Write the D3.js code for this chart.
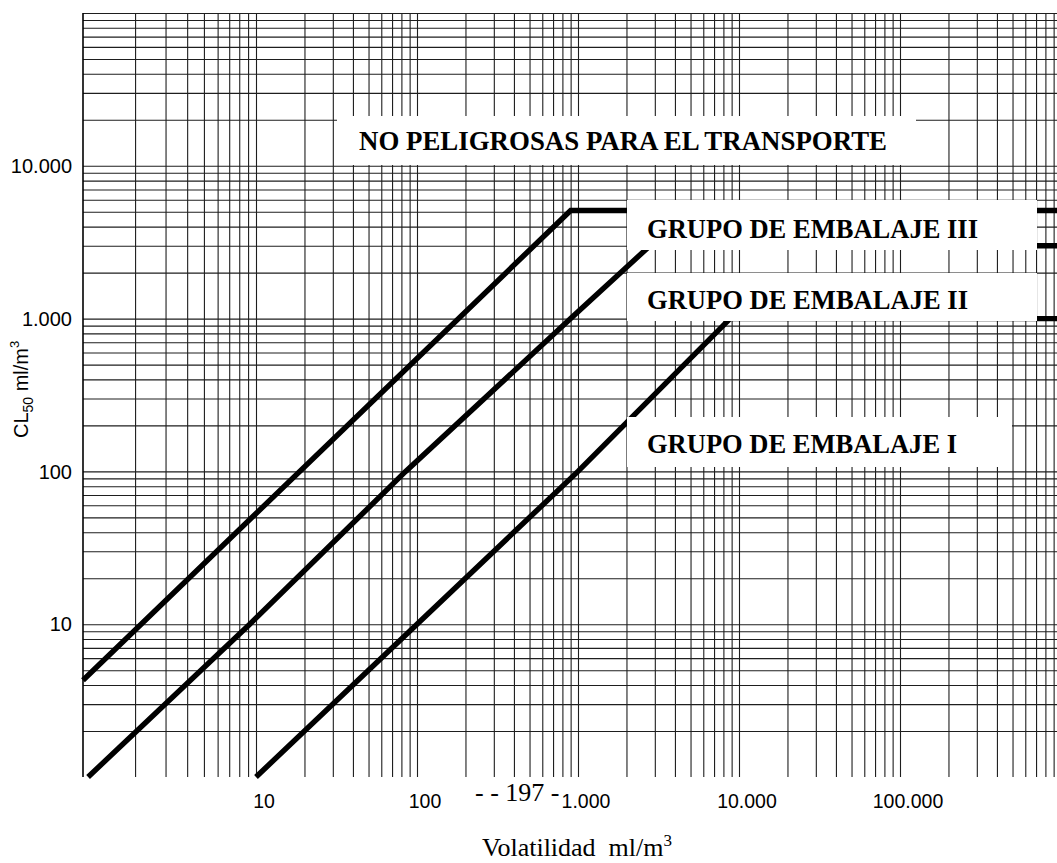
<!DOCTYPE html>
<html>
<head>
<meta charset="utf-8">
<script src="https://cdn.jsdelivr.net/npm/d3@7"></script>
<style>
  html, body { margin: 0; padding: 0; background: #fff; }
  svg { display: block; }
</style>
</head>
<body>
<svg id="chart" width="1057" height="863"></svg>
<script>
// ---------------- DATA ----------------
// x: Volatilidad (ml/m3), y: CL50 (ml/m3)
const xDecades = [1, 10, 100, 1000, 10000, 100000, 1000000];
const yDecades = [1, 100000];
const xTickValues = [10, 100, 1000, 10000, 100000];
const xTickLabels = ["10", "100", "1.000", "10.000", "100.000"];
const yTickValues = [10, 100, 1000, 10000];
const yTickLabels = ["10", "100", "1.000", "10.000"];

// boundary lines [volatility, CL50]
const lineGroupIII = [[1, 4.3], [900, 5100], [1000000, 5100]];
const lineGroupII  = [[1.07, 1], [9.2, 10], [85, 100], [900, 1000], [2800, 3000], [1000000, 3000]];
const lineGroupI   = [[10, 1], [100, 10], [1000, 100], [8800, 1000], [1000000, 1000]];

const regionLabels = ["NO PELIGROSAS PARA EL TRANSPORTE", "GRUPO DE EMBALAJE III", "GRUPO DE EMBALAJE II", "GRUPO DE EMBALAJE I"];
const pageNumber = "- - 197 -";
const xTitle = "Volatilidad  ml/m";
const yTitleMain = "CL";
const yTitleSub = "50";
const yTitleUnit = " ml/m";

// ---------------- LAYOUT ----------------
const svg = d3.select("#chart");
const plot = { left: 83, right: 1057, top: 13, bottom: 777 };
const xRange = [83, 256, 417, 578, 739, 900, 1061];

const x = d3.scaleLog().domain(xDecades).range(xRange);
const y = d3.scaleLog().domain(yDecades).range([plot.bottom, plot.top]);

// grid values (1..9 x 10^k)
const xGrid = [];
for (let k = 0; k < 6; k++) for (let m = 1; m <= 9; m++) xGrid.push(m * Math.pow(10, k));
const yGrid = [];
for (let k = 0; k < 5; k++) for (let m = 1; m <= 9; m++) { const v = m * Math.pow(10, k); if (v > 1) yGrid.push(v); }
yGrid.push(100000);

const gridColor = "#1e1e1e";

// vertical grid via axis
const gx = svg.append("g")
  .attr("transform", `translate(0,${plot.bottom})`)
  .call(d3.axisBottom(x).tickValues(xGrid.filter(v => v > 1)).tickSize(-(plot.bottom - plot.top)).tickFormat(""));
gx.select(".domain").remove();
gx.selectAll(".tick line").attr("stroke", gridColor).attr("stroke-width", 1.1);

// horizontal grid via axis
const gy = svg.append("g")
  .attr("transform", `translate(${plot.left},0)`)
  .call(d3.axisLeft(y).tickValues(yGrid).tickSize(-(plot.right - plot.left)).tickFormat(""));
gy.select(".domain").remove();
gy.selectAll(".tick line").attr("stroke", gridColor).attr("stroke-width", 1.1);

// left axis line
svg.append("line")
  .attr("x1", plot.left).attr("x2", plot.left)
  .attr("y1", plot.top).attr("y2", plot.bottom)
  .attr("stroke", "#000").attr("stroke-width", 1.6);

// boundary lines
const line = d3.line().x(d => x(d[0])).y(d => y(d[1]));
[lineGroupIII, lineGroupII, lineGroupI].forEach(data => {
  svg.append("path")
    .attr("d", line(data))
    .attr("fill", "none")
    .attr("stroke", "#000")
    .attr("stroke-width", 5.4)
    .attr("stroke-linecap", "butt")
    .attr("stroke-linejoin", "miter");
});

// white label boxes
const boxes = [
  { x0: 337, x1: 916, y0: 116, y1: 165, tx: 359, ty: 150, tw: 528 },
  { x0: 627, x1: 1037, y0: 200, y1: 250, tx: 647, ty: 238, tw: 331 },
  { x0: 627, x1: 1037, y0: 273, y1: 321, tx: 647, ty: 309, tw: 321 },
  { x0: 627, x1: 1012, y0: 417, y1: 467, tx: 647, ty: 453, tw: 310 }
];
boxes.forEach((b, i) => {
  svg.append("rect")
    .attr("x", b.x0).attr("y", b.y0)
    .attr("width", b.x1 - b.x0).attr("height", b.y1 - b.y0)
    .attr("fill", "#fff");
  svg.append("text")
    .attr("x", b.tx).attr("y", b.ty)
    .attr("font-family", "'Liberation Serif', 'Times New Roman', serif")
    .attr("font-weight", "bold")
    .attr("font-size", 27.5)
    .attr("textLength", b.tw)
    .attr("lengthAdjust", "spacingAndGlyphs")
    .attr("fill", "#000")
    .text(regionLabels[i]);
});

// x tick labels
svg.append("g").selectAll("text")
  .data(xTickValues)
  .join("text")
  .attr("x", d => x(d) + 8)
  .attr("y", plot.bottom + 31)
  .attr("text-anchor", "middle")
  .attr("font-family", "'Liberation Sans', Arial, sans-serif")
  .attr("font-size", 19.5)
  .attr("fill", "#000")
  .text((d, i) => xTickLabels[i]);

// y tick labels
svg.append("g").selectAll("text")
  .data(yTickValues)
  .join("text")
  .attr("x", 72)
  .attr("y", d => y(d))
  .attr("dy", "0.36em")
  .attr("text-anchor", "end")
  .attr("font-family", "'Liberation Sans', Arial, sans-serif")
  .attr("font-size", 20)
  .attr("fill", "#000")
  .text((d, i) => yTickLabels[i]);

// page number overlapping the axis labels
svg.append("text")
  .attr("x", 475).attr("y", 801)
  .attr("font-family", "'Liberation Serif', 'Times New Roman', serif")
  .attr("font-size", 26)
  .attr("fill", "#000")
  .text(pageNumber);

// x title
const xt = svg.append("text")
  .attr("x", 482).attr("y", 856)
  .attr("font-family", "'Liberation Serif', 'Times New Roman', serif")
  .attr("font-size", 26)
  .attr("fill", "#000")
  .style("white-space", "pre");
xt.append("tspan").text(xTitle);
xt.append("tspan").attr("font-size", 17).attr("dy", -10).text("3");

// y title (rotated)
const yt = svg.append("text")
  .attr("transform", "translate(28,438) rotate(-90)")
  .attr("font-family", "'Liberation Sans', Arial, sans-serif")
  .attr("font-size", 20)
  .attr("fill", "#000")
  .style("white-space", "pre");
yt.append("tspan").text(yTitleMain);
yt.append("tspan").attr("font-size", 14).attr("dy", 5).text(yTitleSub);
yt.append("tspan").attr("dy", -5).text(yTitleUnit);
yt.append("tspan").attr("font-size", 13).attr("dy", -9).text("3");
</script>
</body>
</html>
